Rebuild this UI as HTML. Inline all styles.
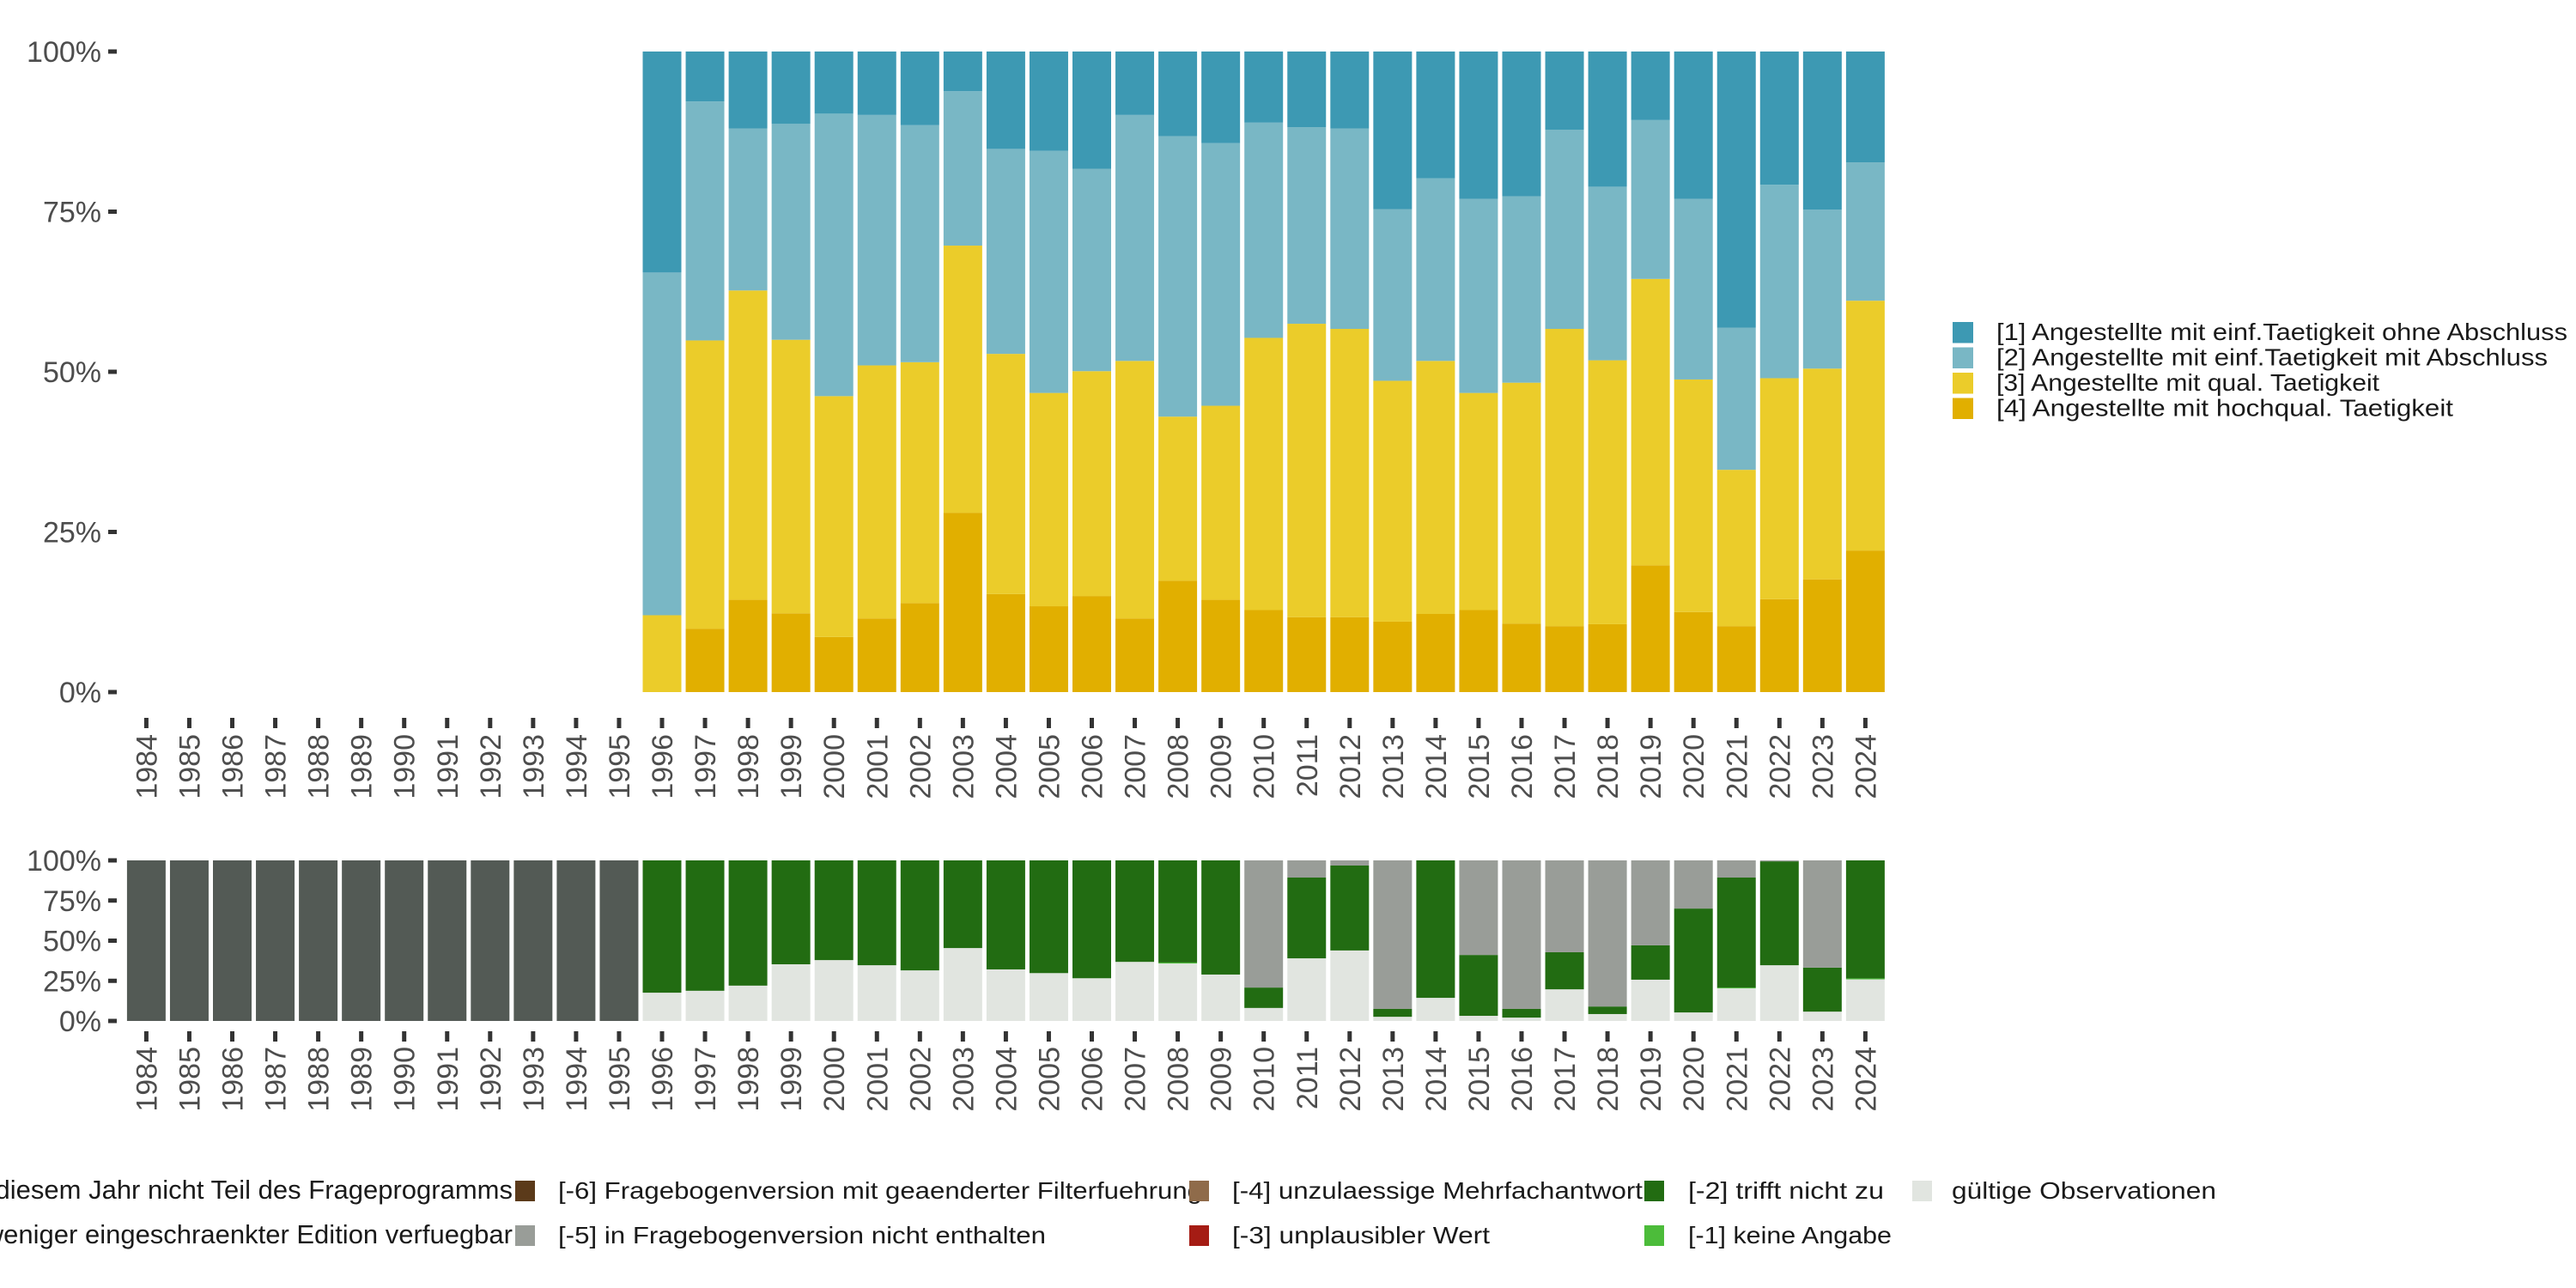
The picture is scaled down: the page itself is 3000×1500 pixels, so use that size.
<!DOCTYPE html>
<html><head><meta charset="utf-8"><style>
html,body{margin:0;padding:0;background:#fff;}
svg{display:block;font-family:"Liberation Sans",sans-serif;}
</style></head><body>
<svg id="chart" width="3000" height="1500" viewBox="0 0 3000 1500" xmlns="http://www.w3.org/2000/svg">
<g id="topPanel"></g>
<g id="botPanel"></g>
<g id="legR"></g>
<g id="legB"></g>
</svg>
<script>
const years = [1984,1985,1986,1987,1988,1989,1990,1991,1992,1993,1994,1995,1996,1997,1998,1999,2000,2001,2002,2003,2004,2005,2006,2007,2008,2009,2010,2011,2012,2013,2014,2015,2016,2017,2018,2019,2020,2021,2022,2023,2024];
const topYears = [1996,1997,1998,1999,2000,2001,2002,2003,2004,2005,2006,2007,2008,2009,2010,2011,2012,2013,2014,2015,2016,2017,2018,2019,2020,2021,2022,2023,2024];
// shares (%) per category, top chart
const cat4 = [0,9.9,14.4,12.3,8.6,11.5,13.9,28.0,15.3,13.4,15.0,11.5,17.4,14.4,12.8,11.7,11.7,11.0,12.2,12.8,10.7,10.3,10.6,19.8,12.5,10.3,14.5,17.6,22.1];
const cat3 = [12.0,45.0,48.3,42.7,37.6,39.5,37.6,41.7,37.5,33.3,35.1,40.2,25.6,30.3,42.5,45.8,45.0,37.6,39.5,33.9,37.6,46.4,41.2,44.7,36.3,24.4,34.5,32.9,39.0];
const cat2 = [53.5,37.3,25.3,33.7,44.1,39.1,37.0,24.1,32.0,37.8,31.6,38.4,43.8,41.0,33.6,30.7,31.3,26.8,28.5,30.3,29.1,31.1,27.1,24.8,28.2,22.2,30.2,24.8,21.6];
const cat1 = [34.5,7.8,12.0,11.3,9.7,9.9,11.5,6.2,15.2,15.5,18.3,9.9,13.2,14.3,11.1,11.8,12.0,24.6,19.8,23.0,22.6,12.2,21.1,10.7,23.0,43.1,20.8,24.7,17.3];
// bottom chart shares (%)
const botNotIn = [100,100,100,100,100,100,100,100,100,100,100,100,0,0,0,0,0,0,0,0,0,0,0,0,0,0,0,0,0,0,0,0,0,0,0,0,0,0,0,0,0];
const botValid = [0,0,0,0,0,0,0,0,0,0,0,0,17.6,18.8,22.0,35.3,37.9,34.7,31.5,45.4,32.1,29.8,26.6,36.8,35.8,28.9,8.1,39.0,43.9,2.6,14.4,3.2,2.1,19.7,4.3,25.7,5.3,20.3,34.7,5.8,25.9];
const botNoAns = [0,0,0,0,0,0,0,0,0,0,0,0,0,0,0,0,0,0,0,0,0,0,0,0,0.6,0,0,0,0,0,0,0,0,0,0,0,0,0.5,0,0,0.6];
const botNotApp = [0,0,0,0,0,0,0,0,0,0,0,0,82.4,81.2,78.0,64.7,62.1,65.3,68.5,54.6,67.9,70.2,73.4,63.2,63.6,71.1,12.7,50.3,52.9,4.9,85.6,37.9,5.4,23.1,4.7,21.4,64.7,68.5,64.7,27.4,73.5];
const botNotInVer = [0,0,0,0,0,0,0,0,0,0,0,0,0,0,0,0,0,0,0,0,0,0,0,0,0,0,79.2,10.7,3.2,92.5,0,58.9,92.5,57.2,91.0,52.9,30.0,10.7,0.6,66.8,0];
const yTicks = [0,25,50,75,100];

const NS="http://www.w3.org/2000/svg";
function mk(parent,tag,attrs){const e=document.createElementNS(NS,tag);for(const k in attrs)e.setAttribute(k,attrs[k]);parent.appendChild(e);return e;}
const xC = y => 170.4 + (y-1984)*50.05;
const BW = 45;
const topY = v => 806 - v/100*746;
const botY = v => 1189 - v/100*187;
const axisCol="#4d4d4d";

function axes(g, yf, tickTop, labTop){
  yTicks.forEach(t=>{
    const tx=mk(g,'text',{x:118,y:yf(t)+12,'text-anchor':'end','font-size':34,fill:axisCol});
    tx.textContent=t+'%';
    
    
    const tk=mk(g,'line',{x1:126,x2:136,y1:yf(t),y2:yf(t),stroke:'#333','stroke-width':5});
    
    
  });
  years.forEach(y=>{
    const tk=mk(g,'line',{x1:xC(y),x2:xC(y),y1:tickTop,y2:tickTop+12,stroke:'#333','stroke-width':5});
    
    
    const tx=mk(g,'text',{x:0,y:0,'text-anchor':'end','font-size':34,fill:axisCol,transform:`translate(${xC(y)+12},${labTop}) rotate(-90)`});
    tx.textContent=y;
    
    
  });
}

const topG=document.getElementById('topPanel');
axes(topG, topY, 836, 855);
const topSeries=[[cat4,'#e1af00'],[cat3,'#ebcc2a'],[cat2,'#79b7c5'],[cat1,'#3d99b3']];
topYears.forEach((y,i)=>{
  let c=0;
  topSeries.forEach(([arr,col],k)=>{
    const v=arr[i]; if(v<=0){return;}
    const r=mk(topG,'rect',{x:xC(y)-BW/2,y:topY(c+v),width:BW,height:topY(c)-topY(c+v),fill:col});
    
    
    c+=v;
  });
});

const botG=document.getElementById('botPanel');
axes(botG, botY, 1201, 1219);
const botSeries=[[botValid,'#e1e5e0'],[botNoAns,'#4cbc3a'],[botNotApp,'#226c12'],[botNotInVer,'#999d98'],[botNotIn,'#535a55']];
years.forEach((y,i)=>{
  let c=0;
  botSeries.forEach(([arr,col])=>{
    const v=arr[i]; if(v<=0)return;
    const hi=Math.min(100,c+v);
    const r=mk(botG,'rect',{x:xC(y)-BW/2,y:botY(hi),width:BW,height:botY(c)-botY(hi),fill:col});
    
    
    c+=v;
  });
});

// right legend
const legR=document.getElementById('legR');
const rLab=['[1] Angestellte mit einf.Taetigkeit ohne Abschluss','[2] Angestellte mit einf.Taetigkeit mit Abschluss','[3] Angestellte mit qual. Taetigkeit','[4] Angestellte mit hochqual. Taetigkeit'];
const rCol=['#3d99b3','#79b7c5','#ebcc2a','#e1af00'];
const rLen=[665,642,446,532];
rLab.forEach((l,i)=>{
  const y=375+i*29.5;
  const s=mk(legR,'rect',{x:2274,y:y,width:24,height:24.5,fill:rCol[i]});
  
  
  const t=mk(legR,'text',{x:2325,y:y+21,'font-size':28,fill:'#1a1a1a',textLength:rLen[i],lengthAdjust:'spacingAndGlyphs'});
  t.textContent=l;
  
  
});

// bottom legend
const legB=document.getElementById('legB');
const bItems=[
 [600,1375,'#5b3a1a',650,'[-6] Fragebogenversion mit geaenderter Filterfuehrung',750],
 [1385,1375,'#8f6b4a',1435,'[-4] unzulaessige Mehrfachantwort',478],
 [1915,1375,'#226c12',1966,'[-2] trifft nicht zu',228],
 [2227,1375,'#e1e5e0',2273,'gültige Observationen',308],
 [600,1427,'#999d98',650,'[-5] in Fragebogenversion nicht enthalten',568],
 [1385,1427,'#a51c14',1435,'[-3] unplausibler Wert',300],
 [1915,1427,'#4cbc3a',1966,'[-1] keine Angabe',237]
];
bItems.forEach(([sx,sy,col,tx,lab,len])=>{
  const s=mk(legB,'rect',{x:sx,y:sy,width:23,height:24,fill:col});
  
  
  const t=mk(legB,'text',{x:tx,y:sy+21,'font-size':28,fill:'#1a1a1a',textLength:len,lengthAdjust:'spacingAndGlyphs'});
  t.textContent=lab;
  
  
});
[['[-8] Frage in diesem Jahr nicht Teil des Frageprogramms',1396],['[-7] Nur in weniger eingeschraenkter Edition verfuegbar',1448]].forEach(([lab,y])=>{
  const t=mk(legB,'text',{x:597,y:y,'font-size':31,fill:'#1a1a1a','text-anchor':'end'});
  t.textContent=lab;
  
  
});
</script>
</body></html>
